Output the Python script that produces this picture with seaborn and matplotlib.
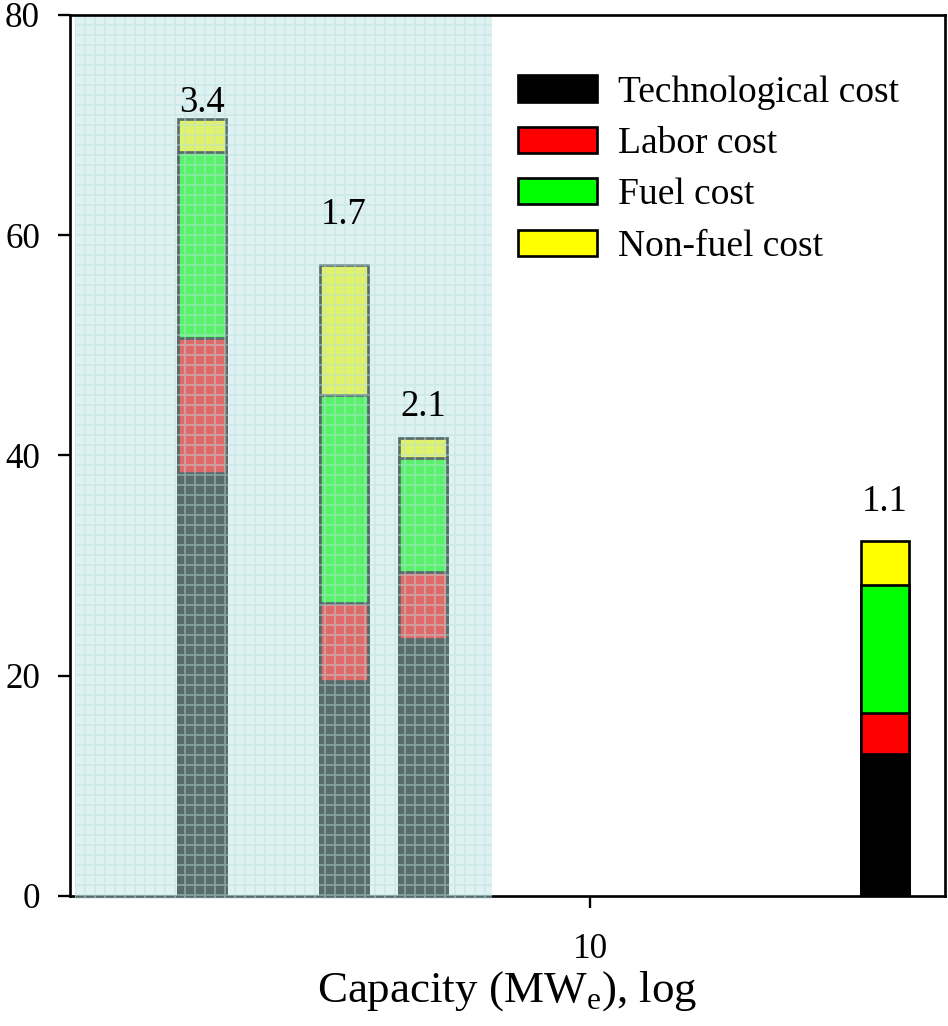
import numpy as np
import pandas as pd
import matplotlib
matplotlib.use("Agg")
import matplotlib.pyplot as plt
from matplotlib.patches import Patch, Rectangle
import seaborn as sns

# Plant capacities (MWe) and cost components
capacity = [2.0, 3.6, 5.0, 34.0]
technological = [38.4, 19.5, 23.3, 12.9]
labor = [12.3, 7.1, 6.1, 3.7]
fuel = [16.9, 18.9, 10.4, 11.6]
non_fuel = [3.0, 11.8, 1.8, 4.0]
bar_labels = ["3.4", "1.7", "2.1", "1.1"]
label_y = [71.2, 61.0, 43.6, 35.0]

components = ["Technological cost", "Labor cost", "Fuel cost", "Non-fuel cost"]
colors = ["#000000", "#ff0000", "#00ff00", "#ffff00"]

# shaded range of small units
shade_x = (1.18, 6.66)

sns.set_style("ticks")
plt.rcParams["font.family"] = ["Liberation Serif", "DejaVu Serif"]
plt.rcParams["mathtext.fontset"] = "custom"
plt.rcParams["mathtext.rm"] = "Liberation Serif"
plt.rcParams["hatch.linewidth"] = 1.1
for key in ["text.color", "axes.labelcolor", "xtick.color", "ytick.color"]:
    plt.rcParams[key] = "black"

df = pd.DataFrame({
    "capacity": capacity,
    "Technological cost": technological,
    "Labor cost": labor,
    "Fuel cost": fuel,
    "Non-fuel cost": non_fuel,
})
# cumulative heights, stacked bottom to top
cum = df[components].cumsum(axis=1)

fig = plt.figure(figsize=(7.9, 8.55), dpi=120)
ax = fig.add_axes([70 / 948, 1 - 896 / 1026, 875 / 948, 881 / 1026])

# draw tallest stack first so lower segments overlay it
for comp, col in zip(components[::-1], colors[::-1]):
    sns.barplot(x=df["capacity"], y=cum[comp], orient="x", native_scale=True,
                log_scale=(True, False), width=0.61, color=col, saturation=1,
                edgecolor="black", linewidth=1.6, errorbar=None, ax=ax)

for x, y, t in zip(capacity, label_y, bar_labels):
    ax.text(x, y, t, ha="center", va="baseline", fontsize=22, color="black",
            zorder=10)

ax.set_xscale("log")
ax.set_xlim(1.156, 43.6)
ax.set_ylim(0, 80)
ax.set_xticks([10])
ax.set_xticklabels(["10"])
ax.xaxis.set_minor_locator(matplotlib.ticker.NullLocator())
ax.set_yticks([0, 20, 40, 60, 80])
ax.tick_params(axis="both", direction="out", length=7, width=1.4, labelsize=21,
               colors="black")
ax.tick_params(axis="y", pad=11)
ax.tick_params(axis="x", pad=15)
for s in ax.spines.values():
    s.set_linewidth(1.6)
    s.set_color("black")
ax.set_xlabel(r"Capacity (MW$_\mathrm{e}$), log", fontsize=27, labelpad=2,
              color="black")
ax.set_ylabel("")

# translucent gridded band over the small-capacity units
w = shade_x[1] - shade_x[0]
ax.add_patch(Rectangle((shade_x[0], -0.3), w, 80.1, facecolor="#bfe2e2",
                       alpha=0.47, linewidth=0, zorder=5, clip_on=False))
ax.add_patch(Rectangle((shade_x[0], -0.3), w, 80.1, facecolor="none",
                       edgecolor="#b8e2e2", hatch="++", linewidth=0,
                       alpha=0.45, zorder=6, clip_on=False))

handles = [Patch(facecolor=c, edgecolor="black", linewidth=1.6) for c in colors]
ax.legend(handles, components, loc="upper left", bbox_to_anchor=(0.491, 0.953),
          frameon=False, fontsize=22.5, borderpad=0, handlelength=2.1,
          handleheight=0.7, handletextpad=0.55, labelspacing=0.45,
          labelcolor="black")

fig.savefig("out.png", dpi=120)
